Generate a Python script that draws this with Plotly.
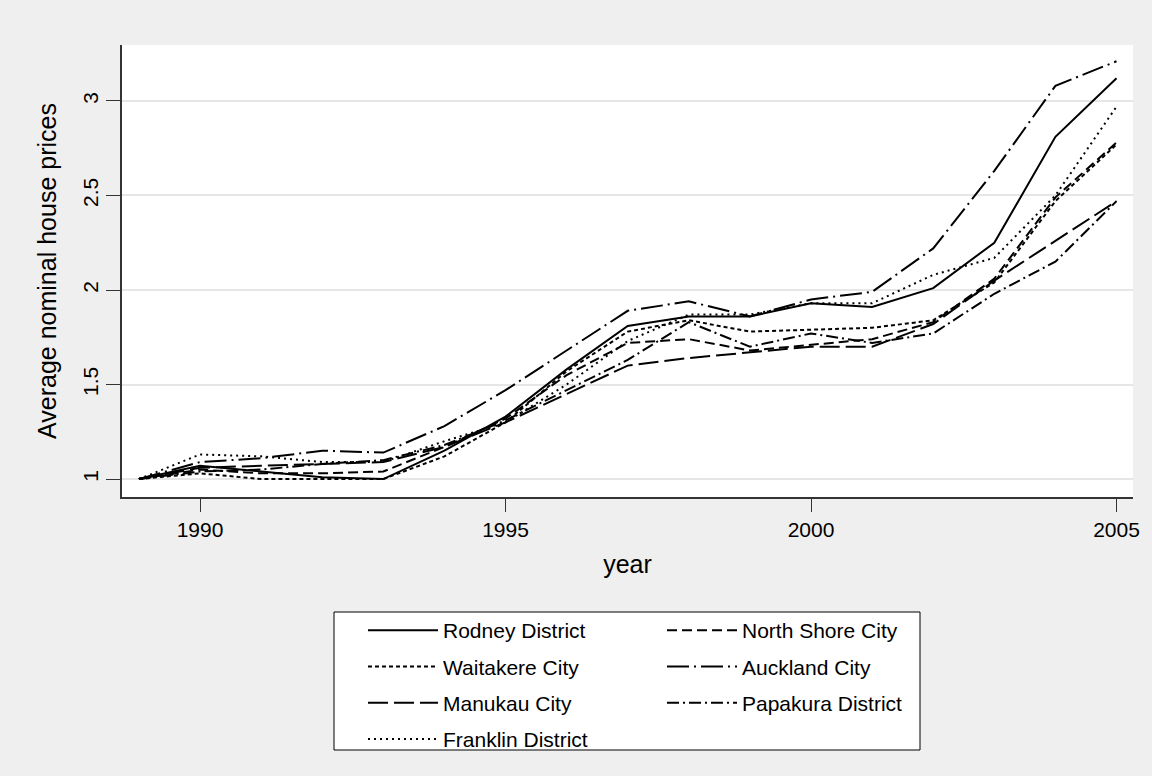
import plotly.graph_objects as go

years = list(range(1989, 2006))

rodney = [1.00, 1.07, 1.04, 1.01, 1.00, 1.15, 1.33, 1.58, 1.81, 1.86, 1.86, 1.93, 1.91, 2.01, 2.25, 2.81, 3.12]
north_shore = [1.00, 1.05, 1.03, 1.03, 1.04, 1.17, 1.32, 1.55, 1.72, 1.74, 1.68, 1.71, 1.74, 1.83, 2.06, 2.49, 2.78]
waitakere = [1.00, 1.03, 1.00, 1.00, 1.00, 1.12, 1.30, 1.57, 1.78, 1.84, 1.78, 1.79, 1.80, 1.84, 2.04, 2.47, 2.77]
auckland = [1.00, 1.09, 1.11, 1.15, 1.14, 1.28, 1.47, 1.68, 1.89, 1.94, 1.86, 1.95, 1.99, 2.22, 2.63, 3.08, 3.21]
manukau = [1.00, 1.06, 1.07, 1.08, 1.09, 1.17, 1.30, 1.45, 1.60, 1.64, 1.67, 1.70, 1.70, 1.82, 2.05, 2.26, 2.47]
papakura = [1.00, 1.04, 1.05, 1.08, 1.10, 1.18, 1.31, 1.47, 1.63, 1.83, 1.70, 1.77, 1.72, 1.77, 1.98, 2.15, 2.47]
franklin = [1.00, 1.13, 1.12, 1.09, 1.09, 1.20, 1.30, 1.50, 1.73, 1.87, 1.87, 1.93, 1.93, 2.08, 2.17, 2.50, 2.97]

x_ticks = [1990, 1995, 2000, 2005]
y_ticks = [1, 1.5, 2, 2.5, 3]
y_tick_text = ["1", "1.5", "2", "2.5", "3"]

series = [
    ("Rodney District", rodney, "solid", "legend"),
    ("North Shore City", north_shore, "10px,5px", "legend2"),
    ("Waitakere City", waitakere, "4px,3px", "legend"),
    ("Auckland City", auckland, "22px,5px,2px,5px", "legend2"),
    ("Manukau City", manukau, "20px,6px", "legend"),
    ("Papakura District", papakura, "12px,4px,2px,4px", "legend2"),
    ("Franklin District", franklin, "2px,4px", "legend"),
]

FONT = "Liberation Sans, Arial, sans-serif"
FS = 21

fig = go.Figure()
for name, vals, dash, leg in series:
    fig.add_trace(go.Scatter(
        x=years, y=vals, mode="lines", name=name,
        legend=leg, legendgroup=name,
        line=dict(color="black", width=2, dash=dash),
    ))

fig.update_layout(
    width=1152, height=776,
    margin=dict(l=122, r=19, t=45, b=279),
    paper_bgcolor="#efefef",
    plot_bgcolor="white",
    font=dict(family=FONT, size=FS, color="black"),
    showlegend=True,
    legend=dict(
        x=(363 - 122) / 1011, xanchor="left",
        y=(497 - 610) / 452, yanchor="top",
        bgcolor="rgba(0,0,0,0)", borderwidth=0,
        tracegroupgap=6, itemwidth=70,
        font=dict(family=FONT, size=FS, color="black"),
    ),
    legend2=dict(
        x=(662 - 122) / 1011, xanchor="left",
        y=(497 - 610) / 452, yanchor="top",
        bgcolor="rgba(0,0,0,0)", borderwidth=0,
        tracegroupgap=6, itemwidth=70,
        font=dict(family=FONT, size=FS, color="black"),
    ),
    shapes=[dict(
        type="rect", xref="paper", yref="paper",
        x0=(334 - 122) / 1011, x1=(920 - 122) / 1011,
        y0=(497 - 612) / 452, y1=(497 - 750) / 452,
        line=dict(color="black", width=1), fillcolor="white", layer="below",
    )],
)

fig.update_xaxes(
    range=[1988.723, 2005.27],
    tickvals=x_ticks,
    ticks="outside", ticklen=13, tickwidth=1, tickcolor="#333333",
    showline=True, linecolor="#333333", linewidth=1.5,
    showgrid=False, zeroline=False,
    title=dict(text="year", standoff=16),
    tickfont=dict(size=FS),
)
fig.update_yaxes(
    range=[0.905, 3.296],
    tickvals=y_ticks, ticktext=y_tick_text, tickangle=-90,
    ticks="outside", ticklen=14, tickwidth=1, tickcolor="#333333",
    showline=True, linecolor="#333333", linewidth=1.5,
    showgrid=True, gridcolor="#e6e6e6", gridwidth=2,
    zeroline=False,
    title=dict(text="Average nominal house prices", standoff=15),
    tickfont=dict(size=FS),
)

fig.write_html("out.html", config={"displayModeBar": False},
               post_script="document.body.style.margin='0';")
